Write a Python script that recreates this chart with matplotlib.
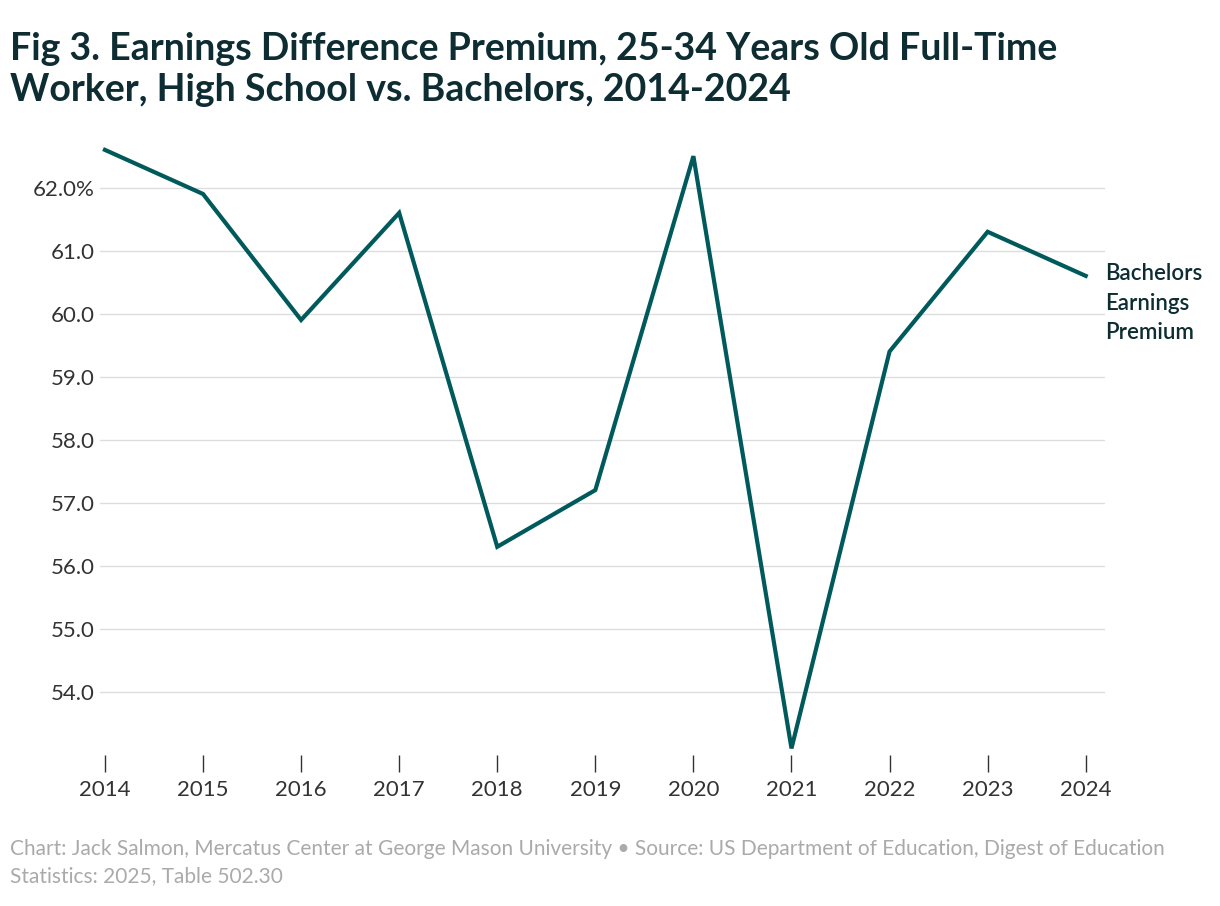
import matplotlib
matplotlib.use("Agg")
import matplotlib.pyplot as plt

years = [2014, 2015, 2016, 2017, 2018, 2019, 2020, 2021, 2022, 2023, 2024]
premium = [62.6, 61.9, 59.9, 61.6, 56.3, 57.2, 62.5, 53.1, 59.4, 61.3, 60.6]
yticks = [54.0, 55.0, 56.0, 57.0, 58.0, 59.0, 60.0, 61.0, 62.0]
ylabels = ["54.0", "55.0", "56.0", "57.0", "58.0", "59.0", "60.0", "61.0", "62.0%"]

plt.rcParams['font.family'] = ['Lato', 'DejaVu Sans']
fig = plt.figure(figsize=(12.2, 9.06), dpi=100)
ax = fig.add_axes([0.082, 0.167, 0.824, 0.678])
line_c = '#005a5c'
ax.plot(years, premium, color=line_c, lw=3, solid_joinstyle='miter')
ax.set_xlim(2013.95, 2024.2)
ax.set_ylim(53.0, 62.75)
ax.set_yticks(yticks)
ax.set_yticklabels(ylabels)
ax.set_xticks(years)
ax.grid(axis='y', color='#dddddd', lw=1)
ax.set_axisbelow(True)
for s in ax.spines.values():
    s.set_visible(False)
ax.tick_params(axis='y', length=0, labelsize=16, colors='#333333', pad=4)
ax.tick_params(axis='x', length=12, width=1, color='#333333', labelsize=16, labelcolor='#333333', pad=6)
ax.text(2024.2, 60.6 + 0.2, "Bachelors\nEarnings\nPremium", fontsize=16, color='#0d2d33',
        va='top', ha='left', linespacing=1.5, fontweight='semibold')
fig.text(0.008, 0.965, "Fig 3. Earnings Difference Premium, 25-34 Years Old Full-Time\nWorker, High School vs. Bachelors, 2014-2024",
         fontsize=27, fontweight='bold', color='#0d2d33', va='top', ha='left', linespacing=1.25)
fig.text(0.008, 0.022, "Chart: Jack Salmon, Mercatus Center at George Mason University \u2022 Source: US Department of Education, Digest of Education\nStatistics: 2025, Table 502.30",
         fontsize=15, color='#aaaaaa', va='bottom', ha='left', linespacing=1.45)
fig.savefig("out.png", dpi=100)
